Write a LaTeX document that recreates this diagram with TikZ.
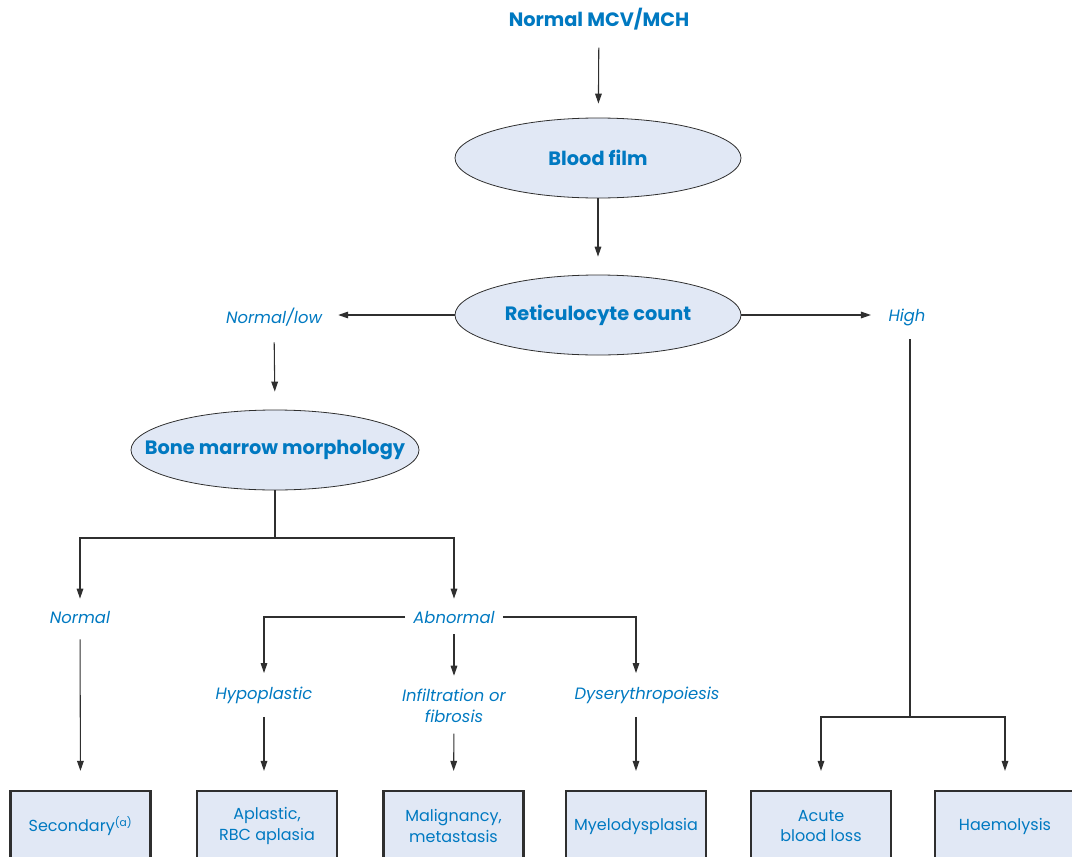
\documentclass[tikz,border=0pt]{standalone}
\usepackage{fontspec}
\setmainfont{Poppins}
\usetikzlibrary{shapes.geometric,arrows.meta}
\definecolor{txtblue}{HTML}{0079C1}
\definecolor{fillblue}{HTML}{E1E8F5}
\definecolor{linegray}{HTML}{2F2F2F}
% text of zero width, so that an oval keeps its own size
\newcommand{\ovaltext}[1]{\makebox[0pt]{#1}}
\begin{document}
\begin{tikzpicture}[x=0.75pt,y=-0.75pt,
  oval/.style={ellipse, draw=linegray, line width=0.6pt, fill=fillblue,
    minimum width=214.5pt, minimum height=60pt, inner sep=0pt,
    font=\bfseries\fontsize{14.5}{16}\selectfont, text=txtblue},
  head/.style={font=\bfseries\fontsize{14.5}{16}\selectfont, text=txtblue, inner sep=0pt},
  tag/.style={font=\itshape\fontsize{12.3}{15.5}\selectfont, text=txtblue,
    inner sep=0pt, align=center},
  result/.style={draw=linegray, line width=2.2pt, fill=fillblue,
    minimum width=105pt, minimum height=52.5pt, inner sep=0pt, align=center,
    font=\fontsize{12}{15.5}\selectfont, text=txtblue},
  ln/.style={draw=linegray, line width=0.8pt},
  arr/.style={ln, -{Triangle[length=7.5pt,width=5pt]}}]
\useasboundingbox (0,0) rectangle (1072,857);
\clip (0,0) rectangle (1072,857);

% upper chain
\node[head] (title) at (599,19) {Normal MCV/MCH};
\node[oval] (film) at (598,158) {\ovaltext{Blood film}};
\node[oval] (retic) at (598,315) {\ovaltext{Reticulocyte count}};
\node[tag] (normlow) at (274,317) {Normal/low};
\node[tag] (high) at (907,317) {High};
\node[oval, minimum width=216pt] (bone) at (275,450) {\ovaltext{Bone marrow morphology}};

% marrow findings
\node[tag] (normal) at (80,617) {Normal};
\node[tag, inner xsep=6pt] (abnormal) at (454,617) {Abnormal};
\node[tag] (hypo) at (264,695) {Hypoplastic};
\node[tag] (infil) at (454,706) {Infiltration or\\fibrosis};
\node[tag] (dys) at (647,695) {Dyserythropoiesis};

% diagnoses
\node[result] (secbox) at (80.5,826) {Secondary\textsuperscript{(a)}};
\node[result] (aplbox) at (267,826) {Aplastic,\\RBC aplasia};
\node[result] (malbox) at (453.5,826) {Malignancy,\\metastasis};
\node[result] (myebox) at (636,826) {Myelodysplasia};
\node[result] (acubox) at (821,826) {Acute\\blood loss};
\node[result] (haebox) at (1005,826) {Haemolysis};

% junctions
\coordinate (bj) at (275,538);
\coordinate (hj) at (910,717);

% connectors
\draw[arr, shorten <=13pt, shorten >=10.5pt] (title) -- (film);
\draw[arr, shorten >=13.5pt] (film) -- (retic);
\draw[arr, shorten >=12pt] (retic.west) -- (retic.west -| normlow.east);
\draw[arr, shorten >=13pt] (retic.east) -- (retic.east -| high.west);
\draw[arr, shorten <=12pt, shorten >=13.5pt] (normlow.south) -- (bone.north);

\draw[ln] (bone.south) -- (bj);
\draw[arr, shorten >=9pt] (bj) -| (normal.north);
\draw[arr, shorten >=9pt] (bj) -| (abnormal.north);
\draw[arr, shorten <=12pt, shorten >=14pt] (normal.south) -- (secbox.north);

\draw[arr, shorten >=10pt] (abnormal.west) -| (hypo.north);
\draw[arr, shorten <=8pt, shorten >=10pt] (abnormal.south) -- (infil.north);
\draw[arr, shorten >=10pt] (abnormal.east) -| (dys.north -| myebox.north);

\draw[arr, shorten <=10pt, shorten >=14pt] (hypo.south) -- (hypo.south |- aplbox.north);
\draw[arr, shorten <=8pt, shorten >=14pt] (infil.south) -- (malbox.north);
\draw[arr, shorten <=10pt, shorten >=14pt] (dys.south -| myebox.north) -- (myebox.north);

\draw[ln, shorten <=10pt] (high.south -| hj) -- (hj);
\draw[arr, shorten >=14pt] (hj) -| (acubox.north);
\draw[arr, shorten >=14pt] (hj) -| (haebox.north);
\end{tikzpicture}
\end{document}
